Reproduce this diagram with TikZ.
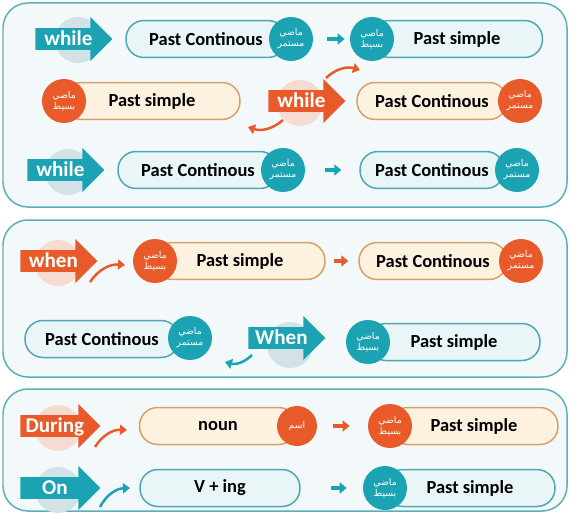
\documentclass[tikz,border=0pt]{standalone}
\usepackage{fontspec}
\setmainfont{Carlito}
\newfontfamily\arabicfont[Script=Arabic]{DejaVu Sans}
\TeXXeTstate=1
\usetikzlibrary{shapes.arrows,arrows.meta}
\definecolor{tealc}{HTML}{1BA3B3}
\definecolor{orangec}{HTML}{E95A2B}
\definecolor{bluefill}{HTML}{EAF5F8}
\definecolor{blueline}{HTML}{4FA7B3}
\definecolor{creamfill}{HTML}{FDF2E0}
\definecolor{creamline}{HTML}{D8A066}
\definecolor{panelfill}{HTML}{F3F9FB}
\definecolor{panelline}{HTML}{5BB0BC}
\definecolor{halot}{HTML}{D3E2E7}
\definecolor{haloo}{HTML}{F5DBD0}
\newcommand\madimustamir{\beginR ماضي\endR\\\beginR مستمر\endR}
\newcommand\madibasit{\beginR ماضي\endR\\\beginR بسيط\endR}

\begin{document}
\begin{tikzpicture}[x=0.02cm,y=-0.02cm,
		panel/.style={draw=panelline,fill=panelfill,line width=0.03cm,rounded corners=0.5cm},
		banner/.style={single arrow,fill=#1,text=white,font=\bfseries\fontsize{12}{12}\selectfont,
			anchor=tail,single arrow head extend=0.22cm,minimum height=1.54cm,
			text height=8.5pt,text depth=1.5pt,inner ysep=1pt,inner xsep=2pt},
		pill/.style={rectangle,rounded corners=0.36cm,minimum height=0.74cm,line width=0.03cm,
			font=\bfseries\fontsize{10.5}{10.5}\selectfont},
		bluepill/.style={pill,draw=blueline,fill=bluefill},
		creampill/.style={pill,draw=creamline,fill=creamfill},
		tense/.style={circle,fill=#1,text=white,minimum size=0.88cm,inner sep=0pt,align=center,
			font=\arabicfont\fontsize{5.3}{6.3}\selectfont},
		link/.style={#1,line width=0.08cm,-{Triangle[length=0.14cm,width=0.22cm]}},
		curl/.style={#1,line width=0.05cm,-{Triangle[length=0.14cm,width=0.2cm]}}]
	\useasboundingbox (0,0) rectangle (570,513);
	\draw[panel] (3,3) rectangle (567,207);
	\draw[panel] (3,220) rectangle (567,377);
	\draw[panel] (3,389) rectangle (567,511);
	\fill[halot] (78,40) circle (0.46cm);
	\fill[haloo] (300,103) circle (0.46cm);
	\fill[halot] (68,172) circle (0.46cm);
	\fill[haloo] (58,263) circle (0.46cm);
	\fill[halot] (290,345) circle (0.46cm);
	\fill[haloo] (58,428) circle (0.46cm);
	\fill[halot] (58,490) circle (0.46cm);
	\node[banner=tealc] (w1) at (35,39) {while};
	\node[banner=orangec] (w2) at (268,101) {while};
	\node[banner=tealc] (w3) at (27,170) {while};
	\node[banner=orangec] (w4) at (20,261) {when};
	\node[banner=tealc] (w5) at (248,338) {When};
	\node[banner=orangec,minimum height=1.6cm] (w6) at (20,426) {During};
	\node[banner=tealc,minimum height=1.6cm] (w7) at (20,488) {On};
	\node[bluepill,minimum width=3.2cm] (pc1) at (206,39) {Past Continous};
	\node[tense=tealc] (c1) at (291,39) {\madimustamir};
	\node[bluepill,minimum width=3.42cm] (ps1) at (457,39) {Past simple};
	\node[tense=tealc] (c2) at (372,39) {\madibasit};
	\node[creampill,minimum width=3.52cm] (ps2) at (152,101) {Past simple};
	\node[tense=orangec] (o1) at (64,101) {\madibasit};
	\node[creampill,minimum width=3.0cm] (pc2) at (432,101) {Past Continous};
	\node[tense=orangec] (o2) at (520,101) {\madimustamir};
	\node[bluepill,minimum width=3.2cm] (pc3) at (198,170) {Past Continous};
	\node[tense=tealc] (c3) at (283,170) {\madimustamir};
	\node[bluepill,minimum width=2.88cm] (pc4) at (432,170) {Past Continous};
	\node[tense=tealc] (c4) at (517,170) {\madimustamir};
	\node[creampill,minimum width=3.4cm] (ps4) at (240,261) {Past simple};
	\node[tense=orangec] (o3) at (155,261) {\madibasit};
	\node[creampill,minimum width=2.96cm] (pc5) at (433,261) {Past Continous};
	\node[tense=orangec] (o4) at (521,261) {\madimustamir};
	\node[bluepill,minimum width=3.08cm] (pc6) at (102,339) {Past Continous};
	\node[tense=tealc] (c5) at (190,338) {\madimustamir};
	\node[bluepill,minimum width=3.44cm] (ps6) at (454,342) {Past simple};
	\node[tense=tealc] (c6) at (368,342) {\madibasit};
	\node[creampill,minimum width=3.14cm] (noun) at (218,426) {noun};
	\node[tense=orangec,minimum size=0.8cm] (o5) at (297,426) {\beginR اسم\endR};
	\node[creampill,minimum width=3.36cm] (ps7) at (474,426) {Past simple};
	\node[tense=orangec] (o6) at (390,426) {\madibasit};
	\node[bluepill,minimum width=3.2cm] (ving) at (220,488) {V + ing};
	\node[bluepill,minimum width=3.4cm] (ps8) at (470,488) {Past simple};
	\node[tense=tealc] (c7) at (385,488) {\madibasit};
	\draw[link=tealc,shorten <=0.28cm,shorten >=0.1cm] (c1) -- (c2);
	\draw[link=tealc,shorten <=0.4cm,shorten >=0.36cm] (c3) -- (pc4);
	\draw[link=orangec,shorten <=0.16cm,shorten >=0.2cm] (ps4) -- (pc5);
	\draw[link=orangec,shorten <=0.32cm,shorten >=0.36cm] (o5) -- (o6);
	\draw[link=tealc,shorten <=0.6cm,shorten >=0.32cm] (ving) -- (c7);
	\coordinate (k1) at (326,78);
	\coordinate (k2) at (360,70);
	\coordinate (k3) at (283,120);
	\coordinate (k4) at (248,127);
	\coordinate (k5) at (90,282);
	\coordinate (k6) at (125,265);
	\coordinate (k7) at (252,355);
	\coordinate (k8) at (225,362);
	\coordinate (k9) at (95,447);
	\coordinate (k10) at (127,430);
	\coordinate (k11) at (100,507);
	\coordinate (k12) at (130,488);
	\draw[curl=orangec] (k1) to[bend left=30] (k2);
	\draw[curl=orangec] (k3) to[bend left] (k4);
	\draw[curl=orangec] (k5) to[bend left] (k6);
	\draw[curl=tealc] (k7) to[bend left] (k8);
	\draw[curl=orangec] (k9) to[bend left] (k10);
	\draw[curl=tealc] (k11) to[bend left] (k12);
\end{tikzpicture}
\end{document}
